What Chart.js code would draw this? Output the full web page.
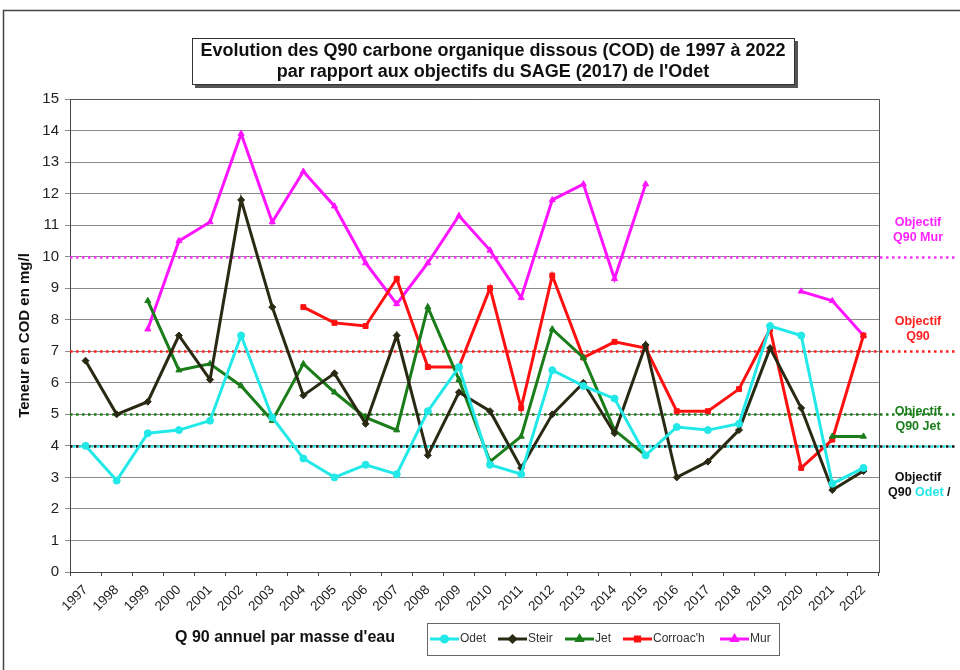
<!DOCTYPE html>
<html>
<head>
<meta charset="utf-8">
<script src="https://cdn.jsdelivr.net/npm/chart.js@4.4.1/dist/chart.umd.min.js"></script>
<style>
  body { margin: 0; background: #fff; }
  canvas { display: block; }
</style>
</head>
<body>
<canvas id="chart" width="960" height="670"></canvas>
<script>
// années (axe X)
const years = ['1997', '1998', '1999', '2000', '2001', '2002', '2003', '2004', '2005', '2006', '2007', '2008', '2009',
    '2010', '2011', '2012', '2013', '2014', '2015', '2016', '2017', '2018', '2019', '2020', '2021', '2022'];

// Q90 COD en mg/l par masse d'eau
const odet = [4.0, 2.9, 4.4, 4.5, 4.8, 7.5, 4.9, 3.6, 3.0, 3.4, 3.1, 5.1, 6.5,
    3.4, 3.1, 6.4, 5.9, 5.5, 3.7, 4.6, 4.5, 4.7, 7.8, 7.5, 2.8, 3.3];
const steir = [6.7, 5.0, 5.4, 7.5, 6.1, 11.8, 8.4, 5.6, 6.3, 4.7, 7.5, 3.7, 5.7,
    5.1, 3.3, 5.0, 6.0, 4.4, 7.2, 3.0, 3.5, 4.5, 7.1, 5.2, 2.6, 3.2];
const jet = [null, null, 8.6, 6.4, 6.6, 5.9, 4.8, 6.6, 5.7, 4.9, 4.5, 8.4, 6.1,
    3.5, 4.3, 7.7, 6.8, 4.5, 3.7, null, null, null, null, null, 4.3, 4.3];
const corroach = [null, null, null, null, null, null, null, 8.4, 7.9, 7.8, 9.3, 6.5, 6.5,
    9.0, 5.2, 9.4, 6.8, 7.3, 7.1, 5.1, 5.1, 5.8, 7.7, 3.3, 4.2, 7.5];
const mur = [null, null, 7.7, 10.5, 11.1, 13.9, 11.1, 12.7, 11.6, 9.8, 8.5, 9.8, 11.3,
    10.2, 8.7, 11.8, 12.3, 9.3, 12.3, null, null, null, null, 8.9, 8.6, 7.5];

// objectifs du SAGE (2017)
const objMur = 10;
const objCorroach = 7;
const objJet = 5;
const objOdetSteir = 4;

const font = '"Liberation Sans", Arial, sans-serif';

function serie(label, data, color, style, radius) {
    return {
        label: label,
        data: data,
        borderColor: color,
        backgroundColor: color,
        borderWidth: 3,
        pointStyle: style,
        pointRadius: radius,
        pointBorderWidth: 1,
        pointHoverRadius: radius,
        spanGaps: false,
        tension: 0
    };
}

const datasets = [
    serie('Odet', odet, '#22e8e8', 'circle', 3.5),
    serie('Steir', steir, '#2a2a14', 'rectRot', 3.5),
    serie('Jet', jet, '#1a7d1a', 'triangle', 3.5),
    serie('Corroac\'h', corroach, '#ff1010', 'rect', 3.5),
    serie('Mur', mur, '#ff14ff', 'triangle', 3.5)
];

// lignes d'objectif en pointillés (dessinées avant les séries)
const objectifLines = {
    id: 'objectifLines',
    beforeDatasetsDraw(chart) {
        const ctx = chart.ctx;
        const y = chart.scales.y;
        const x0 = chart.chartArea.left;
        const x1 = 955;
        function dotted(value, color, offset) {
            const py = Math.round(y.getPixelForValue(value)) + 0.5;
            ctx.save();
            ctx.strokeStyle = color;
            ctx.lineWidth = 2.5;
            ctx.setLineDash([2.5, 3.5]);
            ctx.lineDashOffset = offset || 0;
            ctx.beginPath();
            ctx.moveTo(x0, py);
            ctx.lineTo(x1, py);
            ctx.stroke();
            ctx.restore();
        }
        dotted(objMur, '#ff30ff');
        dotted(objCorroach, '#ff2020');
        dotted(objJet, '#1a7d1a');
        dotted(objOdetSteir, '#111');
        dotted(objOdetSteir, '#22e8e8', 3);
    }
};

// cadre, titre, légende, libellés
const decor = {
    id: 'decor',
    beforeDraw(chart) {
        const ctx = chart.ctx;
        ctx.save();
        ctx.fillStyle = '#fff';
        ctx.fillRect(0, 0, chart.width, chart.height);
        ctx.strokeStyle = '#444';
        ctx.lineWidth = 1.5;
        ctx.strokeRect(3.5, 10.5, 970, 680);
        ctx.restore();
    },
    afterDraw(chart) {
        const ctx = chart.ctx;
        const a = chart.chartArea;
        const y = chart.scales.y;
        ctx.save();

        // bord droit et haut de la zone de tracé
        ctx.strokeStyle = '#555';
        ctx.lineWidth = 1;
        ctx.beginPath();
        ctx.moveTo(a.left, Math.round(a.top) + 0.5);
        ctx.lineTo(Math.round(a.right) + 0.5, Math.round(a.top) + 0.5);
        ctx.lineTo(Math.round(a.right) + 0.5, a.bottom);
        ctx.stroke();

        // titre encadré avec ombre
        ctx.fillStyle = '#555';
        ctx.fillRect(195, 41, 603, 47);
        ctx.fillStyle = '#fff';
        ctx.fillRect(192, 38, 603, 47);
        ctx.strokeStyle = '#333';
        ctx.strokeRect(192.5, 38.5, 602, 46);
        ctx.fillStyle = '#111';
        ctx.font = 'bold 18px ' + font;
        ctx.textAlign = 'center';
        ctx.textBaseline = 'middle';
        ctx.fillText('Evolution des Q90 carbone organique dissous (COD) de 1997 à 2022', 493, 51);
        ctx.fillText('par rapport aux objectifs du SAGE (2017) de l\'Odet', 493, 72);

        // titre de l'axe X
        ctx.font = 'bold 16px ' + font;
        ctx.fillStyle = '#111';
        ctx.fillText('Q 90 annuel par masse d\'eau', 285, 638);

        // légende
        ctx.strokeStyle = '#666';
        ctx.lineWidth = 1;
        ctx.strokeRect(427.5, 623.5, 352, 32);
        const items = [
            { ds: datasets[0], x: 430 },
            { ds: datasets[1], x: 498 },
            { ds: datasets[2], x: 565 },
            { ds: datasets[3], x: 623 },
            { ds: datasets[4], x: 720 }
        ];
        ctx.font = '12px ' + font;
        ctx.textAlign = 'left';
        items.forEach(it => {
            const ly = 639;
            ctx.strokeStyle = it.ds.borderColor;
            ctx.lineWidth = 3;
            ctx.beginPath();
            ctx.moveTo(it.x, ly);
            ctx.lineTo(it.x + 29, ly);
            ctx.stroke();
            Chart.helpers.drawPoint(ctx, {
                pointStyle: it.ds.pointStyle,
                radius: 3,
                borderWidth: 1
            }, it.x + 14.5, ly);
            ctx.fillStyle = it.ds.borderColor;
            ctx.fill();
            ctx.fillStyle = '#333';
            ctx.fillText(it.ds.label, it.x + 30, ly);
        });

        // libellés des objectifs
        ctx.font = 'bold 12.5px ' + font;
        ctx.textAlign = 'center';
        const cx = 918;
        ctx.fillStyle = '#ff22ff';
        ctx.fillText('Objectif', cx, y.getPixelForValue(objMur) - 34);
        ctx.fillText('Q90 Mur', cx, y.getPixelForValue(objMur) - 19);
        ctx.fillStyle = '#ff2020';
        ctx.fillText('Objectif', cx, y.getPixelForValue(objCorroach) - 30);
        ctx.fillText('Q90', cx, y.getPixelForValue(objCorroach) - 15);
        ctx.fillStyle = '#1a7d1a';
        ctx.fillText('Objectif', cx, y.getPixelForValue(objJet) - 3);
        ctx.fillText('Q90 Jet', cx, y.getPixelForValue(objJet) + 12);
        ctx.fillStyle = '#111';
        ctx.fillText('Objectif', cx, y.getPixelForValue(objOdetSteir) + 32);
        ctx.textAlign = 'left';
        let tx = 888;
        ctx.fillText('Q90 ', tx, y.getPixelForValue(objOdetSteir) + 47);
        tx += ctx.measureText('Q90 ').width;
        ctx.fillStyle = '#22e8e8';
        ctx.fillText('Odet', tx, y.getPixelForValue(objOdetSteir) + 47);
        tx += ctx.measureText('Odet ').width;
        ctx.fillStyle = '#111';
        ctx.fillText('/', tx, y.getPixelForValue(objOdetSteir) + 47);
        ctx.restore();
    }
};

new Chart(document.getElementById('chart'), {
    type: 'line',
    data: { labels: years, datasets: datasets },
    options: {
        responsive: false,
        animation: false,
        devicePixelRatio: 1,
        layout: { padding: { left: 14, right: 81, top: 99, bottom: 0 } },
        plugins: {
            legend: { display: false },
            title: { display: false },
            tooltip: { enabled: false }
        },
        scales: {
            x: {
                offset: true,
                grid: { offset: true, drawOnChartArea: false, tickLength: 4, color: '#444' },
                border: { color: '#444', width: 1 },
                ticks: {
                    autoSkip: false, minRotation: 45, maxRotation: 45, padding: 6,
                    color: '#222', font: { family: font, size: 13.5 }
                },
                afterFit(scale) { scale.height = 98; }
            },
            y: {
                min: 0,
                max: 15,
                grid: { color: '#8a8a8a', lineWidth: 1, tickLength: 5 },
                border: { color: '#444', width: 1 },
                ticks: {
                    stepSize: 1, padding: 6,
                    color: '#222', font: { family: font, size: 15 }
                },
                title: {
                    display: true, text: 'Teneur en COD en mg/l', color: '#111',
                    font: { family: font, size: 15, weight: 'bold' }, padding: 2
                },
                afterFit(scale) { scale.width = 56; }
            }
        }
    },
    plugins: [decor, objectifLines]
});
</script>
</body>
</html>
